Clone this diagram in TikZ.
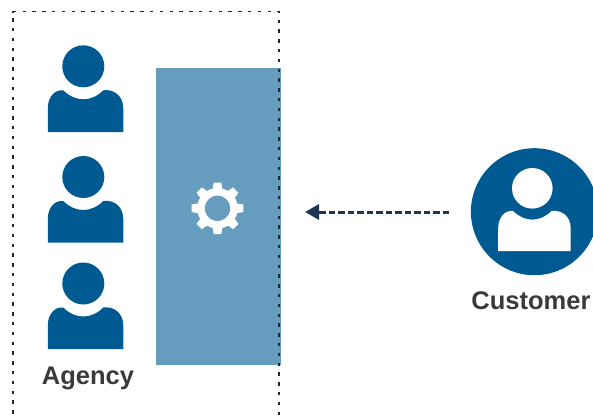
\documentclass[tikz,border=0pt]{standalone}
\usepackage{fontspec}
\setmainfont{Liberation Sans}
\usetikzlibrary{arrows.meta}
\definecolor{agencyblue}{HTML}{005A92}
\definecolor{boxblue}{HTML}{669CBD}
\definecolor{arrowblue}{HTML}{1F3556}
\definecolor{labelgrey}{HTML}{3A3A3A}
\tikzset{
	personhead/.style={circle,fill=#1,inner sep=0pt,minimum size=42pt},
	labeltext/.style={text=labelgrey,font=\fontsize{25.5}{30}\selectfont\bfseries},
	framepart/.style={line width=1.8pt,black!85,dash pattern=on 3.4pt off 6.4pt},
	pics/personbody/.style={code={
		\fill[#1] (-35.5,41.7) -- (-35.5,18) .. controls (-35.5,6) and (-28,-1) .. (-20,0)
			.. controls (-14,6) and (-7,9) .. (0,9) .. controls (7,9) and (14,6) .. (20,0)
			.. controls (31,-1.5) and (40,6) .. (40,18) -- (40,41.7) -- cycle;
	}}
}
\begin{document}
\begin{tikzpicture}[x=1pt,y=-1pt]
	\useasboundingbox (0,0) rectangle (593,415);
	%box
	\fill[boxblue] (156,68) rectangle (280.5,365);
	%frame
	\draw[framepart] (279,415) -- (279,11.5) -- (13,11.5) -- (13,415);
	%agency
	\foreach \y/\name in {66.3/a,177/b,283.5/c} {
		\node[personhead=agencyblue] (head\name) at (83.3,\y) {};
		\pic at (83.3,\y+24) {personbody=agencyblue};
	}
	\node[labeltext] (agency) at (88,378) {Agency};
	%gear
	\foreach \a in {0,45,...,315} {
		\fill[white,rotate around={\a:(217.5,208.3)}] (212.5,190) -- (213.7,182.5) -- (221.3,182.5) -- (222.5,190) -- cycle;
	}
	\node[circle,draw=white,line width=7.5pt,fill=boxblue,inner sep=0pt,minimum size=33pt] (gear) at (217.5,208.3) {};
	%customer
	\node[circle,fill=agencyblue,inner sep=0pt,minimum size=127pt] (customer) at (534.4,211.7) {};
	\node[personhead=white,minimum size=40.6pt] (customerhead) at (532.3,188.3) {};
	\pic[scale=0.96] at (532.3,211) {personbody=white};
	\node[labeltext] (customerlabel) at (531,301) {Customer};
	%arrow
	\coordinate (arrowstart) at (449,212);
	\coordinate (arrowend) at (305,212);
	\draw[-{Triangle[length=14pt,width=15pt]},arrowblue,line width=3pt,dash pattern=on 6.5pt off 3pt] (arrowstart) -- (arrowend);
\end{tikzpicture}
\end{document}
